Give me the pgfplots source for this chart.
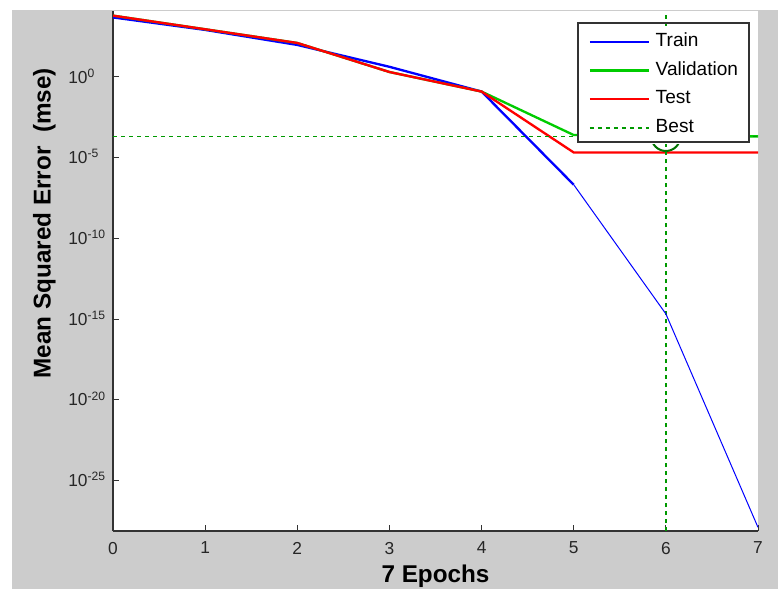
\documentclass[border=0pt]{standalone}
\usepackage{fontspec}
\setmainfont{Liberation Sans}
\usepackage{pgfplots}
\pgfplotsset{compat=1.18}

\definecolor{figgray}{RGB}{204,204,204}
\definecolor{mlblue}{rgb}{0,0,1}
\definecolor{mlgreen}{rgb}{0,0.8,0}
\definecolor{mlred}{rgb}{1,0,0}
\definecolor{bestgreen}{rgb}{0,0.6,0}
\definecolor{circgreen}{rgb}{0,0.45,0}

\begin{document}
\begin{tikzpicture}
  % picture frame (1px = 0.75pt)
  \useasboundingbox (0,0) rectangle (583.5pt,441.75pt);
  \fill[white] (0,0) rectangle (583.5pt,441.75pt);
  \fill[figgray] (9pt,0) rectangle (583.5pt,434.25pt);

  \begin{axis}[
    scale only axis,
    width=483.75pt, height=390pt,
    at={(84.75pt,43.5pt)}, anchor=south west,
    axis background/.style={fill=white},
    xmin=0, xmax=7,
    ymode=log, ymin=7.5e-29, ymax=1.2e4,
    xtick={0,1,2,3,4,5,6,7},
    xticklabels={0,1,2,3,4,5,6,7},
    ytick={1e-25,1e-20,1e-15,1e-10,1e-5,1},
    yticklabels={10\textsuperscript{-25},10\textsuperscript{-20},10\textsuperscript{-15},
                 10\textsuperscript{-10},10\textsuperscript{-5},10\textsuperscript{0}},
    minor ytick={}, minor xtick={},
    axis x line*=bottom, axis y line*=left,
    x axis line style={-}, y axis line style={-},
    axis line style={line width=1pt, black!80},
    tick align=inside, major tick length=4.5pt,
    every tick/.style={black!80, line width=0.75pt},
    tick label style={font=\fontsize{13}{15}\selectfont, text=black!85},
    xticklabel style={anchor=north, inner sep=0pt, yshift=-8pt},
    yticklabel style={anchor=base west, inner sep=0pt, xshift=-33.75pt, yshift=-4.6pt},
    xlabel={7 Epochs},
    ylabel={Mean Squared Error\ \ (mse)},
    label style={font=\fontsize{18.2}{20}\selectfont\bfseries},
    xlabel style={at={(axis description cs:0.5,-0.0875)}, anchor=center},
    ylabel style={at={(axis description cs:-0.1065,0.592)}, anchor=center},
    legend style={at={(axis description cs:0.986,0.977)}, anchor=north east,
      yshift=-2pt, draw=none, fill=white,
      font=\fontsize{14.3}{16}\selectfont,
      inner xsep=8pt, inner ysep=1.25pt, row sep=0pt, column sep=4.5pt,
      nodes={inner xsep=0pt, inner ysep=3.25pt, text height=11pt, text depth=4pt}},
    legend cell align=left,
    legend image code/.code={\draw[line width=1.75pt,#1] (0pt,0pt) -- (44pt,0pt);},
  ]
    % Train (thick to epoch 5, thin afterwards)
    \addplot[mlblue, line width=1.75pt] coordinates {
      (0,4.8e3) (1,8.1e2) (2,9.5e1) (3,4.2) (4,0.123) (5,2.1e-7)};
    \addlegendentry{Train}
    % Validation
    \addplot[mlgreen, line width=1.75pt] coordinates {
      (0,6.2e3) (1,8.9e2) (2,1.26e2) (3,2.0) (4,0.123) (5,2.5e-4) (6,2.04e-4) (7,2.06e-4)};
    \addlegendentry{Validation}
    % Test
    \addplot[mlred, line width=1.75pt] coordinates {
      (0,6.2e3) (1,8.9e2) (2,1.26e2) (3,2.0) (4,0.123) (5,2.08e-5) (6,2.08e-5) (7,2.08e-5)};
    \addlegendentry{Test}
    % Best
    \addplot[draw=bestgreen, line width=1pt, dash pattern=on 3pt off 3pt,
      legend image code/.code={\draw[bestgreen, line width=1pt, dash pattern=on 3pt off 3pt]
        (0pt,0pt) -- (44pt,0pt);}]
      coordinates {(0,2.04e-4) (7,2.04e-4)};
    \addlegendentry{Best}
    \addplot[draw=bestgreen, line width=1pt, dash pattern=on 3pt off 3pt, forget plot]
      coordinates {(6,7.5e-29) (6,1.2e4)};
    \addplot[mlblue, line width=0.75pt, forget plot] coordinates {
      (5,2.1e-7) (6,2.1e-15) (7,1.26e-28)};
    \addplot[only marks, mark=o, mark size=10.9pt, circgreen, line width=1.5pt, forget plot]
      coordinates {(6,2.04e-4)};
  \end{axis}
  % legend frame
  \draw[black!80, line width=1.2pt] (433.5pt,335.25pt) rectangle (561.75pt,424.5pt);
\end{tikzpicture}
\end{document}
